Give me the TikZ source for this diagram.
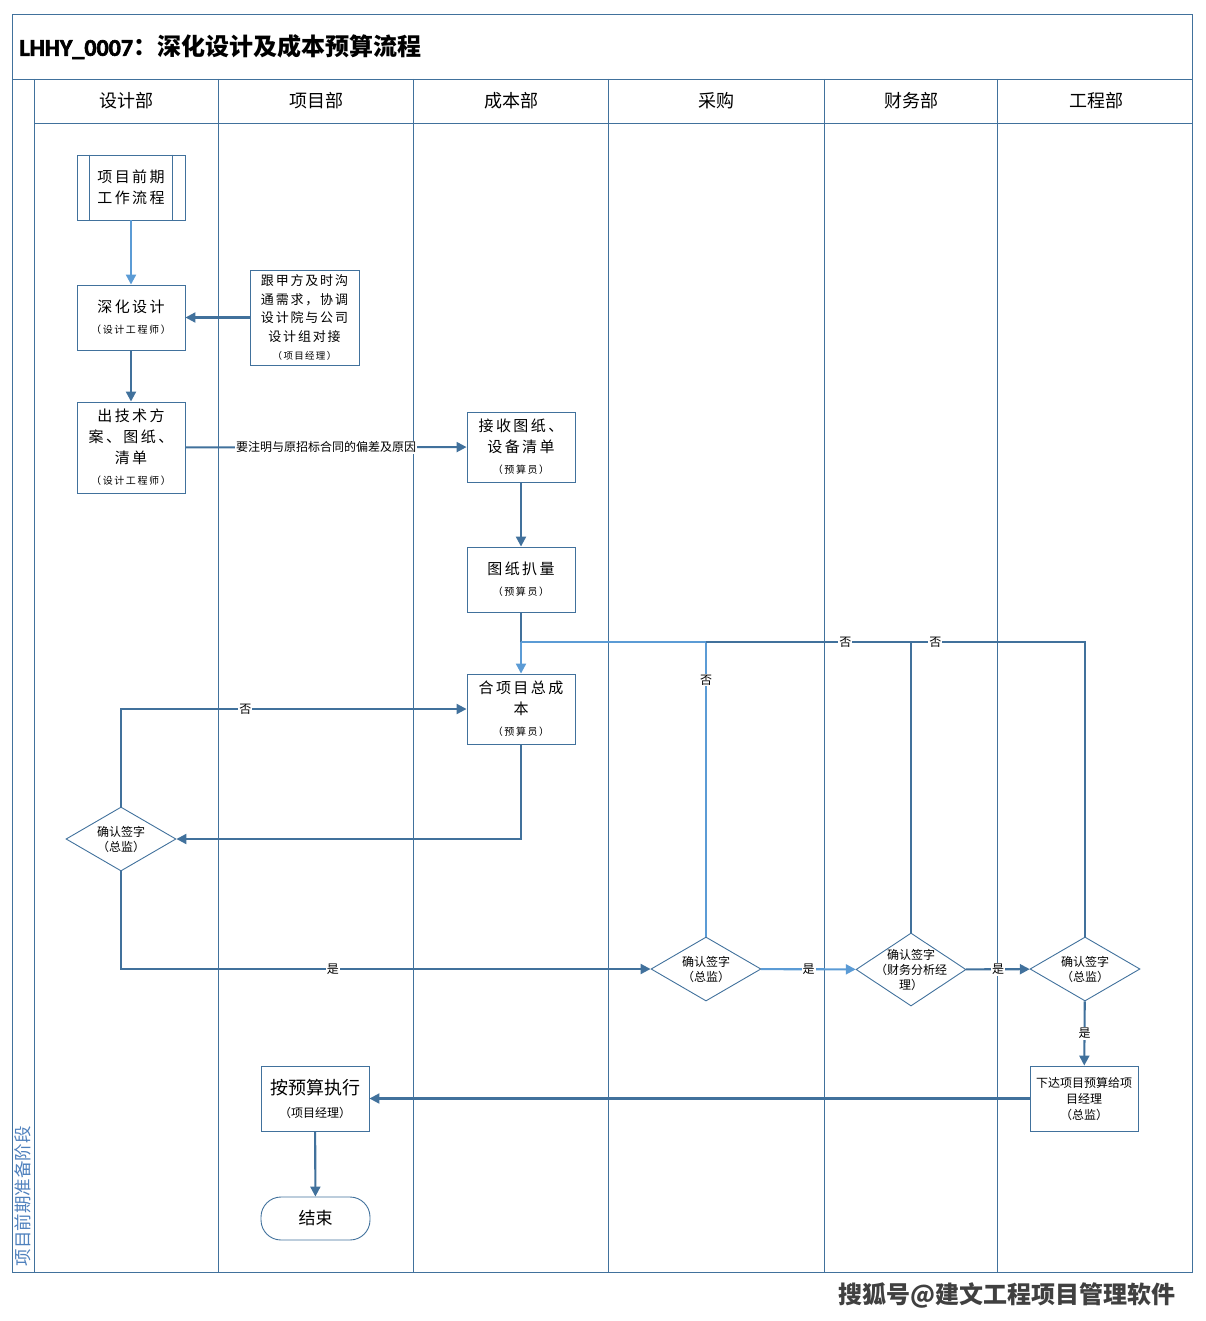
\documentclass[tikz,border=0pt]{standalone}
\usepackage{fontspec}
\setmainfont{Noto Sans CJK SC}
\newfontfamily\latinfont{Carlito}[FakeBold=2.5]
\usepackage{xcolor}
\usetikzlibrary{positioning,arrows.meta,shapes.geometric,calc}
\definecolor{laneblue}{HTML}{41719C}
\definecolor{flowblue}{HTML}{5B9BD5}
\definecolor{phaseblue}{HTML}{4F81BD}
\newcommand{\rolenote}[1]{{\fontsize{10}{13}\selectfont #1}}

\begin{document}
\begin{tikzpicture}[
  x=1pt, y=-1pt,
  font=\fontsize{12}{15}\selectfont,
  lane/.style={draw=laneblue, line width=.8pt},
  lanehead/.style={font=\fontsize{18}{20}\selectfont},
  box/.style={draw=laneblue, line width=.9pt, minimum width=108pt, minimum height=65pt,
              align=center, inner sep=2pt, font=\fontsize{15}{21}\selectfont},
  spaced/.style={box, font=\fontsize{15}{21}\selectfont\addfontfeature{LetterSpace=16}},
  check/.style={diamond, draw=laneblue, line width=.9pt, minimum width=110pt, minimum height=64pt,
                aspect=1.6, inner sep=-8pt, align=center, font=\fontsize{12}{15}\selectfont},
  link/.style={draw=laneblue, line width=2.1pt},
  flow/.style={link, -{Triangle[length=10pt,width=10pt]}},
  lightlink/.style={draw=flowblue, line width=2.1pt},
  lightflow/.style={lightlink, -{Triangle[length=10pt,width=10pt]}},
  lbl/.style={fill=white, inner sep=1pt, font=\fontsize{12}{14}\selectfont}
]
  \useasboundingbox (0,0) rectangle (1205,1321);

  % frame and lanes
  \draw[lane] (12,14) rectangle (1192,1272);
  \draw[lane] (12,79) -- (1192,79);
  \draw[lane] (34,123) -- (1192,123);
  \foreach \x in {34,218,413,608,824,997}
    \draw[lane] (\x,79) -- (\x,1272);

  \node[anchor=west, font=\bfseries\fontsize{24}{26}\selectfont] (title) at (16,47) {{\latinfont LHHY\_0007}：深化设计及成本预算流程};
  \node[lanehead] (hdesign) at (126,101) {设计部};
  \node[lanehead] (hproject) at (316,101) {项目部};
  \node[lanehead] (hcost) at (511,101) {成本部};
  \node[lanehead] (hpurchase) at (716,101) {采购};
  \node[lanehead] (hfinance) at (911,101) {财务部};
  \node[lanehead] (hengineer) at (1096,101) {工程部};
  \node[rotate=90, anchor=west, text=phaseblue, font=\fontsize{17.5}{20}\selectfont] (phase) at (23,1270) {项目前期准备阶段};

  % steps
  \node[spaced] (prework) at (131,187.5) {项目前期\\工作流程};
  \draw[laneblue, line width=.9pt] ([xshift=13pt]prework.north west) -- ([xshift=13pt]prework.south west);
  \draw[laneblue, line width=.9pt] ([xshift=-13pt]prework.north east) -- ([xshift=-13pt]prework.south east);
  \node[spaced] (deepen) at (131,317.5) {深化设计\\\rolenote{（设计工程师）}};
  \node[box, minimum width=109pt, minimum height=95pt, font=\fontsize{13}{18.5}\selectfont\addfontfeature{LetterSpace=14}] (liaise) at (304.5,317.5)
    {跟甲方及时沟\\通需求，协调\\设计院与公司\\设计组对接\\{\fontsize{9.5}{12}\selectfont （项目经理）}};
  \node[spaced, minimum height=91pt] (techplan) at (131,447.5) {出技术方\\案、图纸、\\清单\\\rolenote{（设计工程师）}};
  \node[spaced, minimum height=70pt] (receive) at (521,447) {接收图纸、\\设备清单\\\rolenote{（预算员）}};
  \node[spaced] (takeoff) at (521,579.5) {图纸扒量\\\rolenote{（预算员）}};
  \node[spaced, minimum height=70pt] (totalcost) at (521,709) {合项目总成\\本\\\rolenote{（预算员）}};

  \node[check] (chiefA) at (121,839) {确认签字\\（总监）};
  \node[check] (chiefB) at (706,969) {确认签字\\（总监）};
  \node[check, minimum height=73pt] (finance) at (911,969.5) {确认签字\\（财务分析经\\理）};
  \node[check] (chiefC) at (1085,969) {确认签字\\（总监）};

  \node[box, font=\fontsize{12}{16}\selectfont] (issue) at (1084,1098.5) {下达项目预算给项\\目经理\\（总监）};
  \node[box, font=\fontsize{18}{23}\selectfont] (execute) at (315,1098.5) {按预算执行\\{\fontsize{12}{14}\selectfont（项目经理）}};
  \node[box, rounded corners=20pt, minimum width=109pt, minimum height=43pt, font=\fontsize{17}{20}\selectfont] (finish) at (315.5,1218.5) {结束};

  % connectors
  \coordinate (merge) at (521,642);
  \draw[lightflow] (prework) -- (deepen);
  \draw[flow] (liaise) -- (deepen);
  \draw[flow] (deepen) -- (techplan);
  \draw[flow] (techplan) -- (receive) node[lbl, midway] {要注明与原招标合同的偏差及原因};
  \draw[flow] (receive) -- (takeoff);
  \draw[link] (takeoff) -- (merge);
  \draw[lightflow] (merge) -- (totalcost);
  \draw[lightlink] (chiefB.north) -- (chiefB.north |- merge) node[lbl, pos=.87] {否} -- (merge);
  \draw[link] (finance.north) |- (chiefB.north |- merge) node[lbl, pos=.66] {否};
  \draw[link] (chiefC.north) |- (finance.north |- merge) node[lbl, pos=.93] {否};
  \draw[flow] (totalcost.south) |- (chiefA.east);
  \draw[flow] (chiefA.north) |- (totalcost.west) node[lbl, pos=.68] {否};
  \draw[flow] (chiefA.south) |- (chiefB.west) node[lbl, pos=.70] {是};
  \draw[lightflow] (chiefB) -- (finance) node[lbl, midway] {是};
  \draw[flow] (finance) -- (chiefC) node[lbl, midway] {是};
  \draw[flow] (chiefC) -- (issue) node[lbl, midway] {是};
  \draw[flow] (issue) -- (execute);
  \draw[flow] (execute) -- (finish);

  \node[font=\bfseries\fontsize{24}{28}\selectfont, text=black!75] (mark) at (1007,1295) {搜狐号@建文工程项目管理软件};
\end{tikzpicture}
\end{document}
